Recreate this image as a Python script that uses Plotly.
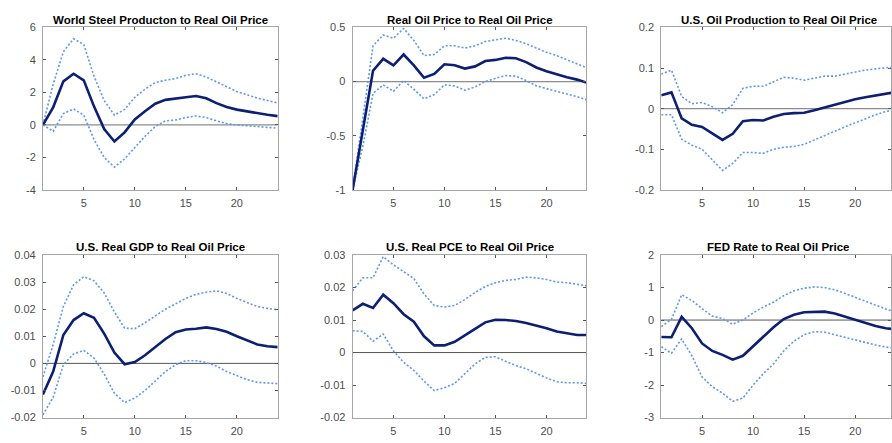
import plotly.graph_objects as go

horizon = list(range(1, 25))

titles = [
    "World Steel Producton to Real Oil Price",
    "Real Oil Price to Real Oil Price",
    "U.S. Oil Production to Real Oil Price",
    "U.S. Real GDP to Real Oil Price",
    "U.S. Real PCE to Real Oil Price",
    "FED Rate to Real Oil Price",
]

steel_mid = [0, 1.08, 2.68, 3.15, 2.74, 1.14, -0.26, -1.02, -0.46, 0.34, 0.84, 1.30, 1.54, 1.60, 1.70, 1.78, 1.64, 1.34, 1.10, 0.94, 0.82, 0.72, 0.62, 0.54]
steel_up = [0, 2.5, 4.5, 5.3, 4.95, 3.0, 1.5, 0.6, 0.95, 1.7, 2.2, 2.6, 2.75, 2.85, 3.05, 3.15, 2.95, 2.65, 2.3, 2.05, 1.85, 1.65, 1.5, 1.35]
steel_lo = [0, -0.4, 0.7, 0.98, 0.6, -0.9, -2.0, -2.6, -2.1, -1.4, -0.7, -0.1, 0.25, 0.3, 0.45, 0.55, 0.45, 0.25, 0.08, 0.0, -0.05, -0.1, -0.15, -0.2]

oil_mid = [-1, -0.45, 0.10, 0.21, 0.15, 0.25, 0.15, 0.035, 0.07, 0.16, 0.15, 0.12, 0.14, 0.19, 0.20, 0.22, 0.215, 0.18, 0.13, 0.095, 0.065, 0.04, 0.018, -0.012]
oil_up = [-1, -0.35, 0.33, 0.43, 0.40, 0.49, 0.38, 0.24, 0.25, 0.33, 0.33, 0.31, 0.33, 0.37, 0.385, 0.40, 0.38, 0.35, 0.31, 0.27, 0.24, 0.20, 0.16, 0.125]
oil_lo = [-1, -0.6, -0.11, -0.03, -0.09, 0.01, -0.07, -0.16, -0.12, -0.03, -0.04, -0.08, -0.05, 0.0, 0.03, 0.055, 0.05, 0.01, -0.04, -0.065, -0.09, -0.11, -0.14, -0.17]

usoil_mid = [0.033, 0.04, -0.024, -0.04, -0.045, -0.06, -0.077, -0.062, -0.031, -0.028, -0.029, -0.02, -0.013, -0.011, -0.01, -0.004, 0.003, 0.009, 0.016, 0.023, 0.028, 0.032, 0.037, 0.041]
usoil_up = [0.085, 0.095, 0.03, 0.012, 0.015, 0.005, -0.01, 0.01, 0.05, 0.055, 0.055, 0.067, 0.077, 0.075, 0.07, 0.075, 0.08, 0.08, 0.085, 0.09, 0.095, 0.098, 0.1, 0.103]
usoil_lo = [-0.015, -0.015, -0.075, -0.09, -0.1, -0.125, -0.152, -0.135, -0.108, -0.108, -0.11, -0.1, -0.095, -0.093, -0.088, -0.077, -0.067, -0.057, -0.045, -0.035, -0.025, -0.015, -0.007, -0.002]

gdp_mid = [-0.0115, -0.003, 0.0105, 0.016, 0.0185, 0.0168, 0.011, 0.004, -0.0003, 0.0005, 0.003, 0.006, 0.009, 0.0115, 0.0125, 0.0128, 0.0133, 0.0127, 0.0117, 0.01, 0.0085, 0.007, 0.0063, 0.006]
gdp_up = [-0.005, 0.007, 0.021, 0.029, 0.032, 0.0305, 0.026, 0.019, 0.013, 0.0128, 0.015, 0.0175, 0.02, 0.022, 0.024, 0.0255, 0.0263, 0.0268, 0.0258, 0.024, 0.0225, 0.021, 0.0203, 0.0198]
gdp_lo = [-0.019, -0.0125, -0.0005, 0.0035, 0.0048, 0.002, -0.004, -0.011, -0.0145, -0.0128, -0.01, -0.0065, -0.003, -0.0005, 0.001, 0.001, 0.0003, -0.001, -0.003, -0.0045, -0.006, -0.007, -0.0073, -0.0075]

pce_mid = [0.013, 0.015, 0.0137, 0.0178, 0.0152, 0.0118, 0.0095, 0.005, 0.0022, 0.0022, 0.0033, 0.0052, 0.0073, 0.0093, 0.0101, 0.01, 0.0097, 0.0091, 0.0084, 0.0075, 0.0065, 0.0059, 0.0054, 0.0054]
pce_up = [0.019, 0.023, 0.023, 0.0295, 0.027, 0.0248, 0.0228, 0.018, 0.0145, 0.014, 0.0145, 0.0163, 0.0185, 0.0203, 0.0215, 0.0222, 0.0225, 0.0232, 0.023, 0.0225, 0.0217, 0.0215, 0.021, 0.0205]
pce_lo = [0.0067, 0.0065, 0.0035, 0.0057, 0.0005, -0.003, -0.0055, -0.0088, -0.0117, -0.0108, -0.0095, -0.0065, -0.0035, -0.0015, -0.0013, -0.0027, -0.004, -0.005, -0.0065, -0.0078, -0.009, -0.0093, -0.0093, -0.0095]

fed_mid = [-0.52, -0.53, 0.1, -0.25, -0.72, -0.95, -1.07, -1.22, -1.1, -0.8, -0.5, -0.22, 0.03, 0.16, 0.24, 0.26, 0.26, 0.2, 0.1, 0.0, -0.1, -0.18, -0.25, -0.29]
fed_up = [-0.2, 0.02, 0.78, 0.6, 0.35, 0.12, 0.05, -0.13, 0.0, 0.22, 0.4, 0.55, 0.75, 0.9, 0.98, 1.02, 1.0, 0.93, 0.82, 0.7, 0.58, 0.45, 0.33, 0.22]
fed_lo = [-0.82, -1.02, -0.58, -1.1, -1.75, -2.05, -2.25, -2.5, -2.4, -2.0, -1.65, -1.35, -0.95, -0.65, -0.45, -0.36, -0.37, -0.45, -0.55, -0.62, -0.7, -0.77, -0.83, -0.87]

mids = [steel_mid, oil_mid, usoil_mid, gdp_mid, pce_mid, fed_mid]
ups = [steel_up, oil_up, usoil_up, gdp_up, pce_up, fed_up]
los = [steel_lo, oil_lo, usoil_lo, gdp_lo, pce_lo, fed_lo]

y_ranges = [[-4, 6], [-1, 0.5], [-0.2, 0.2], [-0.02, 0.04], [-0.02, 0.03], [-3, 2]]
y_ticks = [
    [-4, -2, 0, 2, 4, 6],
    [-1, -0.5, 0, 0.5],
    [-0.2, -0.1, 0, 0.1, 0.2],
    [-0.02, -0.01, 0, 0.01, 0.02, 0.03, 0.04],
    [-0.02, -0.01, 0, 0.01, 0.02, 0.03],
    [-3, -2, -1, 0, 1, 2],
]
y_ticklabels = [
    ["-4", "-2", "0", "2", "4", "6"],
    ["-1", "-0.5", "0", "0.5"],
    ["-0.2", "-0.1", "0", "0.1", "0.2"],
    ["-0.02", "-0.01", "0", "0.01", "0.02", "0.03", "0.04"],
    ["-0.02", "-0.01", "0", "0.01", "0.02", "0.03"],
    ["-3", "-2", "-1", "0", "1", "2"],
]
x_ticks = [5, 10, 15, 20]

W, H = 892, 443
col_px = [(43, 278), (353, 587), (662, 892)]
row_px = [(22, 189), (256, 423)]
px_per_unit = 235 / 23.0

MID_COLOR = "#0c1f73"
BAND_COLOR = "#5b96f0"
AXIS_COLOR = "#a6a6a6"
FONT = "Liberation Sans, Arial, Helvetica, sans-serif"

fig = go.Figure()
annotations = []
shapes = []
for i in range(6):
    r, c = divmod(i, 3)
    n = i + 1
    xa = "x" if n == 1 else f"x{n}"
    ya = "y" if n == 1 else f"y{n}"
    x0, x1 = col_px[c]
    y0, y1 = row_px[r]
    xmax = 1 + (x1 - x0) / px_per_unit
    for series, color, width, dash in [
        (ups[i], BAND_COLOR, 1.6, "2px,2px"),
        (los[i], BAND_COLOR, 1.6, "2px,2px"),
        (mids[i], MID_COLOR, 2.6, "solid"),
    ]:
        fig.add_trace(go.Scatter(
            x=horizon, y=series, mode="lines", xaxis=xa, yaxis=ya,
            line=dict(color=color, width=width, dash=dash),
            showlegend=False, hoverinfo="skip",
        ))
    mirror = "allticks" if c < 2 else "ticks"
    fig.layout[f"xaxis{'' if n == 1 else n}"] = dict(
        domain=[x0 / W, x1 / W], anchor=ya, range=[1, xmax],
        tickmode="array", tickvals=x_ticks, ticktext=[str(v) for v in x_ticks],
        ticks="inside", ticklen=3, tickcolor="#555555", tickwidth=1,
        showline=True, linecolor=AXIS_COLOR, linewidth=1, mirror=mirror,
        showgrid=False, zeroline=False, ticklabelstandoff=3,
        tickfont=dict(family=FONT, size=11, color="#4d4d4d"),
    )
    fig.layout[f"yaxis{'' if n == 1 else n}"] = dict(
        domain=[1 - y1 / H, 1 - y0 / H], anchor=xa, range=y_ranges[i],
        tickmode="array", tickvals=y_ticks[i], ticktext=y_ticklabels[i],
        ticks="inside", ticklen=3, tickcolor="#555555", tickwidth=1,
        showline=True, linecolor=AXIS_COLOR, linewidth=1, mirror="allticks",
        showgrid=False, zeroline=False, ticklabelstandoff=4,
        tickfont=dict(family=FONT, size=11, color="#4d4d4d"),
    )
    shapes.append(dict(
        type="line", xref=f"{xa} domain", yref=ya, x0=0, x1=1, y0=0, y1=0,
        line=dict(color="#8c8c8c" if r == 0 else "#555555", width=1.3 if r == 0 else 1),
        layer="below",
    ))
    annotations.append(dict(
        text=f"<b>{titles[i]}</b>", xref="paper", yref="paper",
        x=((col_px[c][0] + (col_px[c][0] + 235)) / 2) / W, y=1 - (y0 - 8) / H,
        xanchor="center", yanchor="middle", showarrow=False,
        font=dict(family=FONT, size=11.5, color="#000000"),
    ))

fig.update_layout(
    width=W, height=H, margin=dict(l=0, r=0, t=0, b=0),
    paper_bgcolor="white", plot_bgcolor="white",
    annotations=annotations, shapes=shapes, showlegend=False,
)
fig.write_html("out.html")
